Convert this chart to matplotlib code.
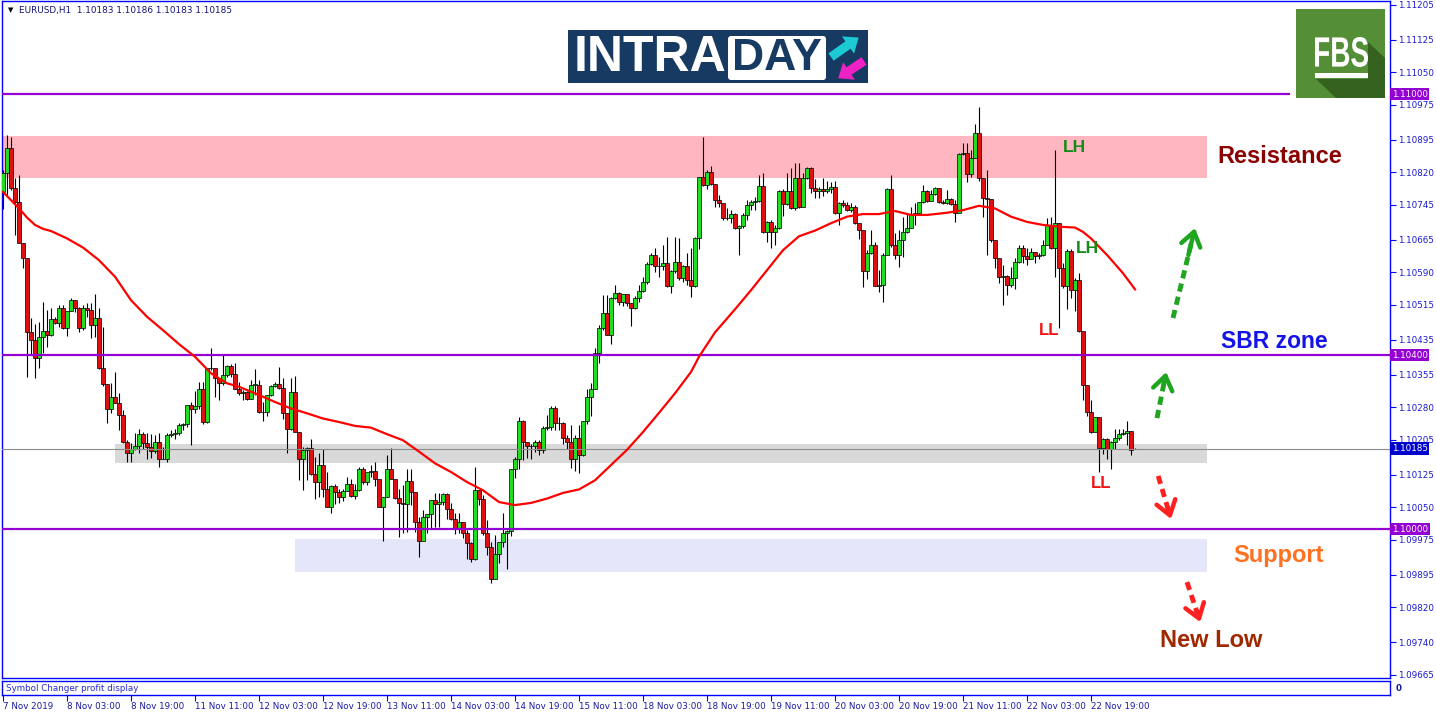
"""
EURUSD H1 intraday chart: candles, 50-bar MA, zones and annotations.
"""

import numpy as np
import matplotlib
matplotlib.use("Agg")
import matplotlib.pyplot as plt
import matplotlib.transforms as mtransforms
from matplotlib.patches import Rectangle, FancyBboxPatch, FancyArrow, Polygon, PathPatch
from matplotlib.textpath import TextPath
from matplotlib.font_manager import FontProperties

plt.rcParams['font.family'] = ['DejaVu Sans']

# ---- data (prices as points: price = 1 + pts / 100000) ----
open_first_pts = 10775
open_last_pts = 10183

close_pts = [
    10818, 10875, 10783, 10752, 10658, 10622, 10453, 10434, 10394, 10442,
    10456, 10446, 10482, 10473, 10509, 10461, 10502, 10526, 10507, 10461,
    10509, 10503, 10469, 10486, 10371, 10333, 10277, 10304, 10290, 10262,
    10200, 10174, 10185, 10190, 10218, 10198, 10188, 10180, 10200, 10162,
    10160, 10216, 10218, 10221, 10239, 10241, 10285, 10275, 10282, 10323,
    10246, 10369, 10371, 10346, 10335, 10354, 10374, 10356, 10323, 10312,
    10315, 10300, 10332, 10332, 10269, 10269, 10308, 10328, 10333, 10325,
    10266, 10229, 10314, 10222, 10162, 10181, 10187, 10126, 10107, 10148,
    10091, 10051, 10099, 10084, 10074, 10087, 10103, 10076, 10089, 10139,
    10108, 10130, 10134, 10115, 10051, 10073, 10137, 10115, 10072, 10059,
    10058, 10110, 10085, 10016, 9973, 10027, 10035, 10067, 10057, 10062,
    10080, 10047, 10024, 10003, 10016, 9990, 9967, 9930, 10089, 10068,
    9990, 9959, 9886, 9942, 9969, 9990, 9996, 10138, 10161, 10249,
    10199, 10191, 10191, 10200, 10181, 10233, 10235, 10279, 10243, 10243,
    10210, 10200, 10160, 10210, 10170, 10248, 10304, 10323, 10405, 10461,
    10497, 10447, 10530, 10542, 10522, 10540, 10520, 10507, 10530, 10548,
    10568, 10609, 10631, 10604, 10604, 10612, 10559, 10594, 10613, 10576,
    10604, 10572, 10558, 10668, 10810, 10791, 10820, 10793, 10756, 10750,
    10714, 10716, 10724, 10691, 10696, 10723, 10745, 10751, 10755, 10788,
    10683, 10705, 10683, 10691, 10777, 10747, 10777, 10737, 10806, 10741,
    10806, 10831, 10785, 10776, 10781, 10776, 10781, 10787, 10726, 10750,
    10745, 10733, 10741, 10703, 10687, 10594, 10634, 10654, 10559, 10561,
    10631, 10782, 10653, 10630, 10664, 10682, 10693, 10721, 10727, 10751,
    10777, 10755, 10769, 10783, 10752, 10749, 10758, 10747, 10726, 10862,
    10864, 10816, 10854, 10910, 10808, 10760, 10758, 10664, 10622, 10580,
    10582, 10562, 10576, 10613, 10647, 10628, 10620, 10636, 10627, 10629,
    10654, 10699, 10647, 10703, 10599, 10558, 10640, 10549, 10572, 10455,
    10332, 10268, 10224, 10257, 10187, 10208, 10185, 10200, 10210, 10218,
    10220, 10225, 10181, 10185,
]

high_pts = [
    10825, 10906, 10902, 10807, 10814, 10658, 10622, 10484, 10471, 10476,
    10522, 10503, 10507, 10488, 10515, 10515, 10502, 10530, 10526, 10511,
    10515, 10520, 10520, 10540, 10507, 10465, 10333, 10335, 10361, 10312,
    10273, 10204, 10198, 10220, 10231, 10223, 10220, 10218, 10216, 10220,
    10189, 10220, 10227, 10231, 10243, 10243, 10285, 10292, 10318, 10338,
    10338, 10369, 10416, 10371, 10346, 10402, 10377, 10380, 10381, 10338,
    10320, 10317, 10342, 10367, 10342, 10292, 10308, 10331, 10338, 10373,
    10347, 10266, 10346, 10351, 10222, 10189, 10189, 10208, 10166, 10175,
    10183, 10131, 10101, 10103, 10091, 10093, 10120, 10115, 10104, 10143,
    10143, 10131, 10147, 10154, 10115, 10074, 10170, 10187, 10115, 10093,
    10101, 10139, 10137, 10085, 10028, 10043, 10035, 10067, 10082, 10082,
    10083, 10083, 10059, 10037, 10037, 10016, 9998, 9970, 10143, 10089,
    10078, 10020, 9970, 9986, 9970, 10036, 9997, 10139, 10166, 10258,
    10250, 10201, 10195, 10204, 10204, 10236, 10262, 10282, 10282, 10258,
    10246, 10216, 10239, 10216, 10239, 10248, 10323, 10335, 10416, 10469,
    10538, 10538, 10534, 10561, 10545, 10540, 10540, 10519, 10535, 10561,
    10580, 10614, 10635, 10645, 10626, 10653, 10672, 10595, 10672, 10668,
    10607, 10634, 10645, 10672, 10810, 10902, 10825, 10834, 10793, 10768,
    10750, 10737, 10733, 10727, 10699, 10726, 10756, 10756, 10764, 10814,
    10818, 10708, 10710, 10699, 10779, 10781, 10818, 10831, 10842, 10841,
    10818, 10833, 10833, 10804, 10787, 10806, 10801, 10798, 10801, 10752,
    10756, 10752, 10749, 10745, 10703, 10687, 10641, 10687, 10660, 10595,
    10634, 10785, 10814, 10680, 10687, 10718, 10724, 10740, 10749, 10752,
    10791, 10779, 10779, 10786, 10784, 10756, 10779, 10760, 10756, 10864,
    10887, 10887, 10871, 10931, 10971, 10808, 10825, 10758, 10664, 10622,
    10607, 10584, 10603, 10622, 10653, 10653, 10645, 10645, 10634, 10634,
    10664, 10714, 10718, 10871, 10699, 10611, 10643, 10644, 10576, 10588,
    10450, 10332, 10297, 10258, 10254, 10210, 10210, 10202, 10231, 10231,
    10231, 10248, 10225, 10186,
]

low_pts = [
    10736, 10768, 10779, 10676, 10657, 10601, 10350, 10400, 10346, 10369,
    10404, 10419, 10443, 10472, 10465, 10459, 10443, 10502, 10500, 10453,
    10457, 10488, 10438, 10442, 10367, 10329, 10244, 10266, 10289, 10227,
    10197, 10154, 10153, 10181, 10174, 10185, 10162, 10164, 10174, 10143,
    10160, 10154, 10212, 10208, 10216, 10227, 10235, 10193, 10266, 10277,
    10241, 10243, 10366, 10304, 10297, 10332, 10350, 10350, 10321, 10308,
    10297, 10297, 10300, 10308, 10267, 10249, 10259, 10306, 10326, 10321,
    10254, 10175, 10227, 10222, 10112, 10089, 10112, 10124, 10070, 10074,
    10074, 10051, 10036, 10057, 10059, 10065, 10087, 10074, 10070, 10087,
    10104, 10101, 10120, 10098, 10051, 9973, 10073, 10114, 10069, 9982,
    9991, 9993, 10055, 9993, 9936, 9973, 9990, 10000, 10005, 10005,
    10055, 10024, 10020, 9988, 9990, 9980, 9932, 9925, 9928, 10055,
    9986, 9940, 9875, 9884, 9921, 9959, 9909, 9983, 10118, 10137,
    10158, 10164, 10162, 10177, 10170, 10175, 10227, 10227, 10227, 10227,
    10196, 10185, 10141, 10134, 10128, 10167, 10241, 10259, 10325, 10381,
    10457, 10446, 10425, 10528, 10515, 10512, 10512, 10466, 10505, 10522,
    10545, 10563, 10607, 10591, 10580, 10595, 10557, 10542, 10589, 10572,
    10568, 10561, 10534, 10557, 10643, 10788, 10781, 10791, 10741, 10741,
    10710, 10710, 10703, 10689, 10630, 10691, 10710, 10733, 10733, 10752,
    10680, 10660, 10647, 10653, 10689, 10719, 10745, 10735, 10733, 10739,
    10741, 10804, 10772, 10760, 10760, 10765, 10772, 10772, 10724, 10699,
    10741, 10732, 10729, 10701, 10666, 10556, 10574, 10632, 10558, 10545,
    10522, 10630, 10649, 10620, 10603, 10626, 10681, 10691, 10699, 10726,
    10749, 10752, 10754, 10768, 10749, 10746, 10747, 10745, 10706, 10726,
    10860, 10798, 10810, 10852, 10800, 10717, 10630, 10660, 10599, 10565,
    10515, 10538, 10557, 10551, 10611, 10611, 10607, 10620, 10611, 10620,
    10627, 10653, 10643, 10580, 10463, 10553, 10505, 10532, 10502, 10452,
    10296, 10259, 10220, 10222, 10131, 10172, 10162, 10137, 10183, 10204,
    10216, 10193, 10171, 10183,
]

# moving average (bar index, points)
ma_idx = [0, 2, 4, 6, 8, 10, 12, 16, 20, 24, 28, 32, 36, 40, 44, 48, 52, 56,
          59, 64, 68, 72, 76, 80, 84, 88, 92, 96, 100, 104, 108, 112, 116,
          120, 124, 128, 132, 136, 140, 144, 148, 152, 156, 160, 164, 168,
          172, 174, 178, 183, 187, 191, 195, 199, 203, 207, 211, 215, 219,
          223, 227, 231, 236, 240, 244, 248, 252, 256, 260, 264, 268, 270,
          272, 276, 280, 283]
ma_pts = [10775, 10756, 10737, 10716, 10699, 10690, 10685, 10668, 10647, 10618,
          10580, 10526, 10488, 10457, 10425, 10396, 10358, 10335, 10327, 10308,
          10292, 10277, 10266, 10254, 10246, 10237, 10233, 10218, 10204, 10178,
          10151, 10131, 10108, 10089, 10062, 10055, 10060, 10070, 10083, 10091,
          10112, 10147, 10182, 10223, 10267, 10312, 10361, 10396, 10452, 10505,
          10549, 10595, 10641, 10673, 10686, 10703, 10718, 10724, 10724, 10731,
          10722, 10722, 10727, 10733, 10743, 10737, 10718, 10706, 10699, 10695,
          10693, 10683, 10668, 10630, 10588, 10551]

date_labels = ["7 Nov 2019", "8 Nov 03:00", "8 Nov 19:00", "11 Nov 11:00",
               "12 Nov 03:00", "12 Nov 19:00", "13 Nov 11:00", "14 Nov 03:00",
               "14 Nov 19:00", "15 Nov 11:00", "18 Nov 03:00", "18 Nov 19:00",
               "19 Nov 11:00", "20 Nov 03:00", "20 Nov 19:00", "21 Nov 11:00",
               "22 Nov 03:00", "22 Nov 19:00"]
bars_per_label = 16

price_ticks = [1.11205, 1.11125, 1.11050, 1.10975, 1.10895, 1.10820, 1.10745,
               1.10665, 1.10590, 1.10515, 1.10435, 1.10355, 1.10280, 1.10205,
               1.10125, 1.10050, 1.09975, 1.09895, 1.09820, 1.09740, 1.09665]

level_lines = [1.11000, 1.10400, 1.10000]
current_price = 1.10185

# zones: (first bar, last bar, low, high, colour)
zones = [(-0.25, 301, 1.10807, 1.10903, '#ffb6c1'),
         (28, 301, 1.10152, 1.10195, '#d9d9d9'),
         (73, 301, 1.09901, 1.09977, '#e6e6fa')]

notes = [("Resistance", 319.3, 1.10857, '#8b0000', 17),
         ("SBR zone", 317.8, 1.10432, '#1414e6', 16.5),
         ("Support", 318.8, 1.09938, '#ff7020', 17),
         ("New Low", 302.0, 1.09743, '#a02800', 17),
         ("LH", 267.8, 1.10877, '#168a16', 12.5),
         ("LH", 271.0, 1.10644, '#168a16', 12.5),
         ("LL", 261.6, 1.10456, '#f01414', 12),
         ("LL", 274.5, 1.10105, '#f01414', 12)]

# dashed arrows: (bar0, price0, bar1, price1, colour)
arrows = [(292.5, 1.10485, 298.0, 1.10692, '#1fa51f'),
          (288.5, 1.10255, 290.8, 1.10361, '#1fa51f'),
          (288.8, 1.10122, 292.0, 1.10023, '#ff2020'),
          (296.0, 1.09878, 299.3, 1.09786, '#ff2020')]

# ---- figure ----
W, H = 1436, 716
BLUE = '#0000ff'


def fig_rect(x0, y0, x1, y1):
    """Pixel box (top-left origin) to figure fraction [l, b, w, h]."""
    return [x0 / W, 1 - y1 / H, (x1 - x0) / W, (y1 - y0) / H]


fig = plt.figure(figsize=(W / 100, H / 100), dpi=100)
ax = fig.add_axes(fig_rect(2, 1, 1390, 678))
sub = fig.add_axes(fig_rect(2, 681, 1390, 695))

to_price = lambda pts: 1 + np.asarray(pts, dtype=float) / 100000

close = to_price(close_pts)
opens = np.r_[to_price([open_first_pts]), close[:-1]]
opens[-1] = to_price([open_last_pts])[0]
high = np.maximum(to_price(high_pts), np.maximum(opens, close))
low = np.minimum(to_price(low_pts), np.minimum(opens, close))
idx = np.arange(len(close))

x_lo, x_hi = -0.25, 346.75
ax.set_xlim(x_lo, x_hi)
ax.set_ylim(1.096575, 1.112138)

for b0, b1, p0, p1, col in zones:
    ax.add_patch(Rectangle((b0, p0), b1 - b0, p1 - p0, facecolor=col,
                           edgecolor='none', zorder=1))

# candles
ax.vlines(idx, low, high, color='black', lw=0.8, zorder=3)
body_h = np.maximum(np.abs(close - opens), 0.000006)
colors = np.where(close >= opens, '#22dd22', '#dd1111')
ax.bar(idx, body_h, bottom=np.minimum(opens, close), width=0.78, color=colors,
       edgecolor='black', linewidth=0.5, zorder=4)

# levels
ax.hlines(level_lines[0], x_lo, 321.75, color='#9400d3', lw=1.6, zorder=5)
for lvl in level_lines[1:]:
    ax.axhline(lvl, color='#9400d3', lw=1.6, zorder=5)
ax.axhline(current_price, color='#8c8c8c', lw=0.8, zorder=5)

# moving average
ax.plot(ma_idx, to_price(ma_pts), color='#ff0000', lw=1.6, zorder=6,
        solid_joinstyle='round')

# price axis
ax.set_xticks([])
ax.yaxis.tick_right()
ax.set_yticks(price_ticks)
ax.set_yticklabels([f"{p:.5f}" for p in price_ticks])
ax.tick_params(axis='y', direction='out', length=4, width=0.8, color=BLUE,
               labelcolor='#1a1ad0', labelsize=6.3, pad=2)
for s in ax.spines.values():
    s.set_color(BLUE)
    s.set_linewidth(1.0)

# highlighted price boxes
trans = mtransforms.blended_transform_factory(ax.transAxes, ax.transData)
for lvl in level_lines:
    ax.text(1.0012, lvl, f"{lvl:.5f}", transform=trans, fontsize=6.3,
            color='white', va='center', ha='left', zorder=10, clip_on=False,
            bbox=dict(boxstyle='square,pad=0.2', fc='#9400d3', ec='none'))
ax.text(1.0012, current_price, f"{current_price:.5f}", transform=trans,
        fontsize=6.3, color='white', va='center', ha='left', zorder=10,
        clip_on=False,
        bbox=dict(boxstyle='square,pad=0.2', fc='#0000cc', ec='none'))

# annotations
for txt, bx, py, col, size in notes:
    ax.text(bx, py, txt, color=col, fontsize=size, fontweight='bold',
            family='Liberation Sans', ha='center', va='center', zorder=8)

for b0, p0, b1, p1, col in arrows:
    bm = b0 + (b1 - b0) * 0.82
    pm = p0 + (p1 - p0) * 0.82
    ax.plot([b0, bm], [p0, pm], color=col, lw=3.5, dashes=(1.7, 1.1),
            zorder=8)
    bh = b0 + (b1 - b0) * 0.7
    ph = p0 + (p1 - p0) * 0.7
    ax.annotate('', xy=(b1, p1), xytext=(bh, ph), zorder=8,
                arrowprops=dict(arrowstyle='->,head_length=0.5,head_width=0.35',
                                color=col, lw=3.2, shrinkA=0, shrinkB=0,
                                mutation_scale=20))

# indicator sub-window with time axis
sub.set_xlim(x_lo, x_hi)
sub.set_ylim(0, 1)
sub.set_yticks([])
sub.set_xticks(np.arange(len(date_labels)) * bars_per_label)
sub.set_xticklabels(date_labels)
for lab in sub.get_xticklabels():
    lab.set_ha('left')
sub.tick_params(axis='x', direction='out', length=4, width=0.8, color=BLUE,
                labelcolor='#1a1aa0', labelsize=6.3, pad=1)
for s in sub.spines.values():
    s.set_color(BLUE)
    s.set_linewidth(1.0)
sub.text(0.003, 0.45, "Symbol Changer profit display", transform=sub.transAxes,
         fontsize=6.3, color='#2a2ad0', va='center', ha='left')
sub.text(1.004, 0.45, "0", transform=sub.transAxes, fontsize=6.3,
         fontweight='bold', color='#1a1aa0', va='center', ha='left')

# ---- overlay in pixel space: header and logos ----
over = fig.add_axes([0, 0, 1, 1], zorder=20)
over.set_xlim(0, W)
over.set_ylim(H, 0)
over.axis('off')

over.text(8, 10, "\u25bc", fontsize=5, color='black', va='center', ha='left')
header = "EURUSD,H1  {:.5f} {:.5f} {:.5f} {:.5f}".format(
    opens[-1], high[-1], low[-1], close[-1])
over.text(19, 10, header, fontsize=6.4, color='#14147a', va='center', ha='left')

# INTRADAY logo
over.add_patch(Rectangle((568, 30), 300, 53, fc='#173a62', ec='none'))
over.text(574, 58, "INTRA", color='white', fontsize=36, fontweight='bold',
          family='Liberation Sans', va='center', ha='left')
over.add_patch(FancyBboxPatch((728, 36), 98, 44,
                              boxstyle='round,pad=0,rounding_size=3',
                              fc='white', ec='none'))
over.text(777, 59, "DAY", color='#173a62', fontsize=32, fontweight='bold',
          family='Liberation Sans', va='center', ha='center')
over.add_patch(FancyArrow(831, 57, 17, -12, width=9, head_width=21,
                          head_length=13, fc='#1ccad4', ec='none'))
over.add_patch(FancyArrow(864, 61, -15, 10, width=9, head_width=21,
                          head_length=13, fc='#ee22c4', ec='none'))

# FBS logo
over.add_patch(Rectangle((1296, 9), 89, 89, fc='#548f38', ec='none'))
over.add_patch(Polygon([(1316, 79), (1368, 79), (1368, 42), (1385, 58),
                        (1385, 98), (1336, 98)], closed=True,
                       fc='#35631f', ec='none'))
fbs_path = TextPath((0, 0), "FBS", size=40,
                    prop=FontProperties(family='Liberation Sans', weight='bold'))
ext = fbs_path.get_extents()
sx = 53 / ext.width
sy = 30 / ext.height
fbs_tr = (mtransforms.Affine2D().translate(-ext.x0, -ext.y0)
          .scale(sx, -sy).translate(1315, 67))
over.add_patch(PathPatch(fbs_tr.transform_path(fbs_path), fc='white',
                         ec='none'))
over.add_patch(Rectangle((1315, 73), 53, 5, fc='white', ec='none'))

fig.savefig("out.png", dpi=100)
